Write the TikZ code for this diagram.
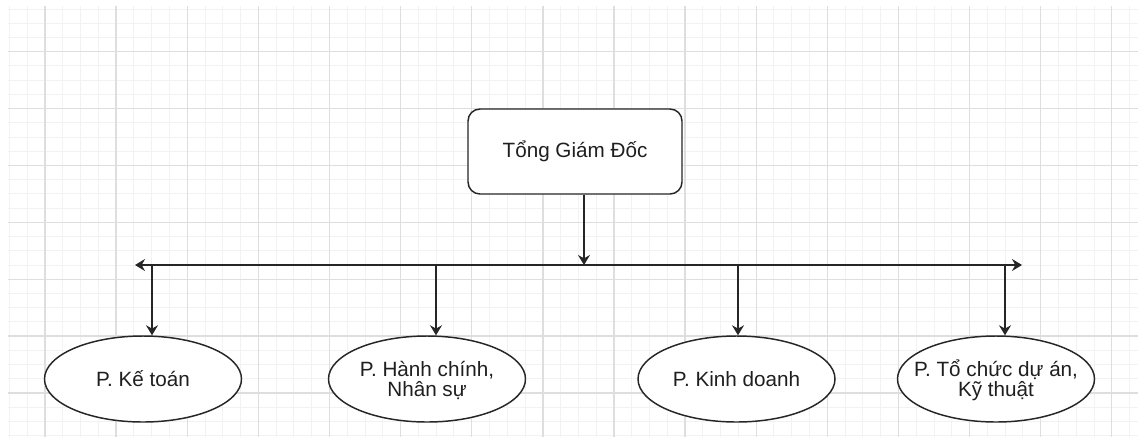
\documentclass[tikz,border=0pt]{standalone}
\usepackage{fontspec}
\setmainfont{Liberation Sans}
\usetikzlibrary{arrows.meta,shapes.geometric}
\begin{document}
\begin{tikzpicture}[x=0.75pt,y=-0.75pt,
  minorgrid/.style={draw=black!5, line width=0.7pt},
  majorgrid/.style={draw=black!13, line width=1pt},
  topbox/.style={draw=black!85, line width=1.1pt, rounded corners=9pt, minimum width=160.5pt, minimum height=63.75pt, inner sep=0pt, fill=white},
  dept/.style={ellipse, draw=black!85, line width=1.1pt, minimum width=147.75pt, minimum height=64.5pt, inner sep=0pt, fill=white},
  lbl/.style={font=\fontsize{15.5}{14.6}\selectfont, text=black!88, align=center, inner sep=0pt},
  tip/.tip={Stealth[length=7.5pt,width=9pt,inset=2.5pt]},
  conn/.style={draw=black!85, line width=1.1pt, -tip},
  bus/.style={draw=black!85, line width=1.1pt, tip-tip},
]
\useasboundingbox (0,0) rectangle (1138,437);
\fill[white] (0,0) rectangle (1138,437);
% grid
\foreach \i [evaluate=\i as \x using 9.4+17.78*\i] in {0,...,63}
  \draw[minorgrid] (\x,6) -- (\x,437);
\foreach \j [evaluate=\j as \y using 9.0+14.22*\j] in {0,...,30}
  \draw[minorgrid] (8,\y) -- (1138,\y);
\foreach \i [evaluate=\i as \x using 45+71.12*\i] in {0,...,15}
  \draw[majorgrid] (\x,6) -- (\x,437);
\foreach \j [evaluate=\j as \y using 51.66+56.88*\j] in {0,...,6}
  \draw[majorgrid] (8,\y) -- (1138,\y);

% nodes
\node[topbox, lbl] (top) at (575,151.5) {Tổng Giám Đốc};
\node[dept] (e1) at (143,379) {};
\node[dept] (e2) at (427,379) {};
\node[dept] (e3) at (736.5,379) {};
\node[dept] (e4) at (996,379) {};
\node[lbl] (t1) at (e1.center) {P. Kế toán};
\node[lbl] (t2) at ([yshift=-1]e2.center) {P. Hành chính,\\Nhân sự};
\node[lbl] (t3) at (e3.center) {P. Kinh doanh};
\node[lbl] (t4) at ([yshift=-1]e4.center) {P. Tổ chức dự án,\\Kỹ thuật};

% connectors
\coordinate (bc) at (584,265);
\coordinate (bl) at (135,265);
\coordinate (br) at (1022,265);
\coordinate (d1) at (152,265);
\coordinate (d2) at (436,265);
\coordinate (d3) at (738,265);
\coordinate (d4) at (1005,265);
\draw[bus] (bl) -- (br);
\draw[conn] (top.south -| bc) -- (bc);
\draw[conn] (d1) -- (d1 |- e1.north);
\draw[conn] (d2) -- (d2 |- e2.north);
\draw[conn] (d3) -- (d3 |- e3.north);
\draw[conn] (d4) -- (d4 |- e4.north);
\end{tikzpicture}
\end{document}
